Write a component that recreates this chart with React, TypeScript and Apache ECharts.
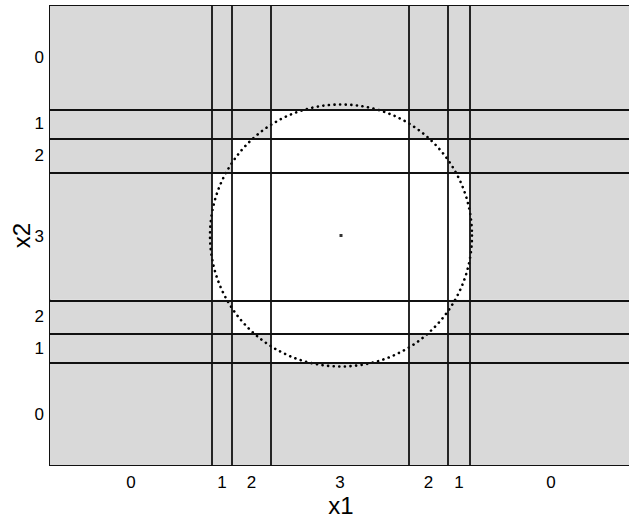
import React, { useEffect, useRef } from "react";
import * as echarts from "echarts";

// Cell boundaries (data units)
const xBounds = [-1.28, -1.08, -0.69, 0.69, 1.08, 1.3]; // left to right
const yBounds = [1.265, 0.975, 0.63, -0.645, -0.98, -1.28]; // top to bottom
const xMin = -2.9;
const xMax = 2.92;
const yMin = -2.3;
const yMax = 2.3;

// Tick labels for each interval
const xLabels = ["0", "1", "2", "3", "2", "1", "0"];
const yLabels = ["0", "1", "2", "3", "2", "1", "0"]; // top to bottom

// Shading of each cell (rows top to bottom, columns left to right): 1 = stippled grey, 0 = white
const shade = [
  [1, 1, 1, 1, 1, 1, 1],
  [1, 1, 1, 0, 1, 1, 1],
  [1, 1, 0, 0, 0, 1, 1],
  [1, 0, 0, 0, 0, 0, 1],
  [1, 1, 0, 0, 0, 1, 1],
  [1, 1, 1, 0, 1, 1, 1],
  [1, 1, 1, 1, 1, 1, 1],
];

// Dotted contour circle and its centre
const circleCenter = [0.01, 0];
const circleRadius = 1.31;

export default function App() {
  const ref = useRef<HTMLDivElement>(null);

  useEffect(() => {
    if (!ref.current) return;
    const chart = echarts.init(ref.current, null, { renderer: "svg" });

    const xEdges = [xMin, ...xBounds, xMax];
    const yEdges = [yMax, ...yBounds, yMin];
    const xMids = xEdges.slice(0, -1).map((v, i) => (v + xEdges[i + 1]) / 2);
    const yMids = yEdges.slice(0, -1).map((v, i) => (v + yEdges[i + 1]) / 2);

    const cells: number[][] = [];
    for (let r = 0; r < 7; r++) {
      for (let c = 0; c < 7; c++) {
        cells.push([xEdges[c], xEdges[c + 1], yEdges[r], yEdges[r + 1], shade[r][c]]);
      }
    }

    const nearestIdx = (arr: number[], v: number) => {
      let best = 0;
      for (let i = 1; i < arr.length; i++) {
        if (Math.abs(arr[i] - v) < Math.abs(arr[best] - v)) best = i;
      }
      return best;
    };

    const font = "'Liberation Sans', Arial, Helvetica, sans-serif";
    const lineColor = "#111";

    chart.setOption({
      animation: false,
      backgroundColor: "#fff",
      grid: {
        left: 50,
        right: -3,
        top: 6,
        bottom: 55,
        outerBoundsMode: "none",
        containLabel: false,
        show: true,
        borderColor: lineColor,
        borderWidth: 2,
        backgroundColor: "#fff",
      },
      xAxis: {
        type: "value",
        min: xMin,
        max: xMax,
        name: "x1",
        nameLocation: "middle",
        nameMoveOverlap: false,
        nameGap: 28,
        nameTextStyle: { fontSize: 24, fontFamily: font, color: "#000" },
        axisLine: { show: false },
        axisTick: { show: false },
        splitLine: { show: false },
        axisLabel: {
          customValues: xMids,
          formatter: (v: number) => xLabels[nearestIdx(xMids, v)],
          fontSize: 17,
          fontFamily: font,
          color: "#000",
          margin: 9,
        },
      },
      yAxis: {
        type: "value",
        min: yMin,
        max: yMax,
        name: "x2",
        nameLocation: "middle",
        nameMoveOverlap: false,
        nameGap: 17,
        nameTextStyle: { fontSize: 24, fontFamily: font, color: "#000" },
        axisLine: { show: false },
        axisTick: { show: false },
        splitLine: { show: false },
        axisLabel: {
          customValues: yMids,
          formatter: (v: number) => yLabels[nearestIdx(yMids, v)],
          fontSize: 17,
          fontFamily: font,
          color: "#000",
          margin: 6,
        },
      },
      series: [
        {
          type: "custom",
          silent: true,
          data: cells,
          renderItem: (params: any, api: any) => {
            const p0 = api.coord([api.value(0), api.value(2)]);
            const p1 = api.coord([api.value(1), api.value(3)]);
            const grey = api.value(4) === 1;
            return {
              type: "rect",
              shape: {
                x: Math.min(p0[0], p1[0]),
                y: Math.min(p0[1], p1[1]),
                width: Math.abs(p1[0] - p0[0]),
                height: Math.abs(p1[1] - p0[1]),
              },
              style: { fill: grey ? "#d9d9d9" : "#ffffff" },
            };
          },
          markLine: {
            silent: true,
            symbol: ["none", "none"],
            label: { show: false },
            lineStyle: { color: lineColor, width: 1.8, type: "solid" },
            data: [
              ...xBounds.map((v) => ({ xAxis: v })),
              ...yBounds.map((v) => ({ yAxis: v })),
            ],
          },
          z: 1,
        },
        {
          type: "custom",
          silent: true,
          data: [[circleCenter[0], circleCenter[1], circleRadius]],
          renderItem: (params: any, api: any) => {
            const c = api.coord([api.value(0), api.value(1)]);
            const r = api.size([api.value(2), 0])[0];
            return {
              type: "circle",
              shape: { cx: c[0], cy: c[1], r },
              style: {
                fill: "none",
                stroke: "#000",
                lineWidth: 2.6,
                lineDash: [0.1, 5.5],
                lineCap: "round",
              },
            };
          },
          z: 3,
        },
        {
          type: "scatter",
          silent: true,
          data: [circleCenter],
          symbol: "rect",
          symbolSize: 3,
          itemStyle: { color: "#000" },
          z: 4,
        },
      ],
    });

    return () => chart.dispose();
  }, []);

  return (
    <div
      ref={ref}
      style={{ position: "absolute", left: 0, top: 0, width: 629, height: 520 }}
    />
  );
}
